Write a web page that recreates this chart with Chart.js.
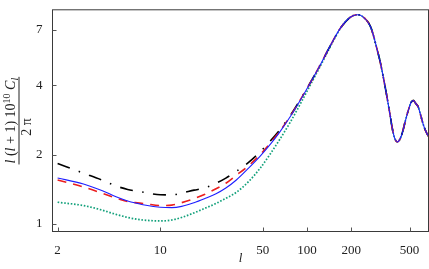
<!DOCTYPE html>
<html><head><meta charset="utf-8">
<script src="https://cdn.jsdelivr.net/npm/chart.js@4.4.0/dist/chart.umd.min.js"></script>
<style>html,body{margin:0;padding:0;background:#fff}canvas{display:block}</style>
</head><body>
<canvas id="c" width="429" height="269"></canvas>
<script>
const ells = [2,3,4,5,6,7,8,10,12,14,17,20,24,28,33,
  40,48,56,65,77,90,105,123,143,168,196,219,
  237,269,283,297,314,327,340,354,368,379,392,401,412,423,437,451,465,480,495,511,530,553,573,593,620,647,673,690];

// shared high-l part (identical for all models above l~200)
const tailVals = [8.01,7.28,6.63,5.89,5.13,4.52,3.97,3.44,2.98,2.65,2.398,2.312,2.27,2.294,2.39,2.55,2.76,2.98,3.18,3.37,3.44,3.325,3.22,2.99,2.70,2.515,2.404,2.35];

const blueLow  = [1.58,1.49,1.395,1.31,1.257,1.226,1.203,1.18,1.175,1.19,1.235,1.285,1.35,1.43,1.55,
  1.746,1.97,2.21,2.50,2.93,3.45,4.09,4.91,5.90,7.07,7.90,8.12];
const redLow   = [1.55,1.445,1.36,1.293,1.25,1.232,1.22,1.20,1.205,1.235,1.285,1.34,1.42,1.50,1.625,
  1.79,2.0,2.24,2.52,2.94,3.46,4.09,4.91,5.90,7.07,7.90,8.12];
const blackLow = [1.83,1.66,1.55,1.46,1.41,1.385,1.365,1.336,1.335,1.36,1.40,1.43,1.50,1.58,1.69,
  1.849,2.056,2.285,2.557,2.96,3.47,4.10,4.91,5.90,7.07,7.90,8.12];
const greenLow = [1.24,1.20,1.147,1.098,1.065,1.045,1.035,1.028,1.038,1.065,1.115,1.165,1.225,1.29,1.37,
  1.525,1.746,2.006,2.32,2.77,3.32,4.00,4.84,5.84,7.04,7.90,8.12];

const xTicks = [2,10,50,100,200,500];
const yTicks = [1,2,4,7];

const SERIF = "'Liberation Serif', 'DejaVu Serif', serif";
const pts = low => low.concat(tailVals).map((v,i) => ({x: ells[i], y: v}));

const framePlugin = {
  id: 'frame',
  afterDatasetsDraw(chart) {
    const {ctx, chartArea: a, scales} = chart;
    ctx.save();
    ctx.strokeStyle = '#3a3a3a'; ctx.lineWidth = 1;
    ctx.strokeRect(a.left, a.top, a.right - a.left, a.bottom - a.top);
    ctx.strokeStyle = '#555';
    ctx.beginPath();
    scales.x.ticks.forEach(t => {
      const px = Math.round(scales.x.getPixelForValue(t.value)) + 0.5;
      ctx.moveTo(px, a.bottom); ctx.lineTo(px, a.bottom - 4);
    });
    scales.y.ticks.forEach(t => {
      const py = Math.round(scales.y.getPixelForValue(t.value)) + 0.5;
      ctx.moveTo(a.left, py); ctx.lineTo(a.left + 4, py);
    });
    ctx.stroke();
    ctx.restore();
  }
};

const yTitlePlugin = {
  id: 'ytitle',
  afterDraw(chart) {
    const ctx = chart.ctx, a = chart.chartArea;
    const cy = (a.top + a.bottom) / 2;
    ctx.save();
    ctx.translate(0, cy);
    ctx.rotate(-Math.PI / 2);
    ctx.fillStyle = '#222';
    ctx.textBaseline = 'alphabetic';
    const parts = [
      {t:'l', f:`italic 14px ${SERIF}`, dy:0},
      {t:' (', f:`14px ${SERIF}`, dy:0},
      {t:'l', f:`italic 14px ${SERIF}`, dy:0},
      {t:' + 1) 10', f:`14px ${SERIF}`, dy:0},
      {t:'10', f:`10px ${SERIF}`, dy:-5},
      {t:' ', f:`14px ${SERIF}`, dy:0},
      {t:'C', f:`italic 14px ${SERIF}`, dy:0},
      {t:'l', f:`italic 10px ${SERIF}`, dy:3}
    ];
    let w = 0;
    parts.forEach(p => { ctx.font = p.f; p.w = ctx.measureText(p.t).width; w += p.w; });
    let x = -w / 2;
    parts.forEach(p => { ctx.font = p.f; ctx.fillText(p.t, x, 14.5 + p.dy); x += p.w; });
    ctx.fillRect(-w / 2 - 1, 18.5, w + 2, 1);
    ctx.font = `14px ${SERIF}`;
    ctx.textAlign = 'center';
    ctx.fillText('2 \u03C0', -(127 - cy), 31);
    ctx.restore();
  }
};

new Chart(document.getElementById('c'), {
  type: 'line',
  data: {
    datasets: [
      {label:'blue', data: pts(blueLow), borderColor:'rgb(30,30,255)', borderWidth:1.1, order:0},
      {label:'red', data: pts(redLow), borderColor:'rgb(235,30,30)', borderWidth:1.6, borderDash:[9,7], order:1},
      {label:'black', data: pts(blackLow), borderColor:'#000', borderWidth:1.6, borderDash:[13,9.5,1.5,9.5], order:2},
      {label:'green', data: pts(greenLow), borderColor:'rgb(17,160,122)', borderWidth:1.7, borderDash:[1.6,1.7], order:3}
    ]
  },
  options: {
    responsive: false,
    animation: false,
    devicePixelRatio: 1,
    layout: {padding: {top: 0.5, right: 0.5, left: 0, bottom: 0}},
    elements: {point: {radius: 0}, line: {cubicInterpolationMode: 'monotone', fill: false, borderCapStyle: 'butt'}},
    plugins: {legend: {display: false}, tooltip: {enabled: false}},
    scales: {
      x: {
        type: 'logarithmic', min: 1.846, max: 672.6,
        grid: {display: false}, border: {display: false},
        afterBuildTicks: s => { s.ticks = xTicks.map(v => ({value: v})); },
        afterFit: s => { s.height = 37.5; },
        ticks: {autoSkip: false, maxRotation: 0, padding: 3, color: '#222',
          font: {family: SERIF, size: 13}, callback: v => String(v)},
        title: {display: true, text: 'l', color: '#222',
          font: {family: SERIF, size: 13, style: 'italic'}, padding: {top: 0, bottom: 3}}
      },
      y: {
        type: 'logarithmic', min: 0.925, max: 8.535,
        grid: {display: false}, border: {display: false},
        afterBuildTicks: s => { s.ticks = yTicks.map(v => ({value: v})); },
        afterFit: s => { s.width = 52.5; },
        ticks: {autoSkip: false, padding: 2, color: '#222',
          font: {family: SERIF, size: 13}, callback: v => String(v)}
      }
    }
  },
  plugins: [framePlugin, yTitlePlugin]
});
</script>
</body></html>
